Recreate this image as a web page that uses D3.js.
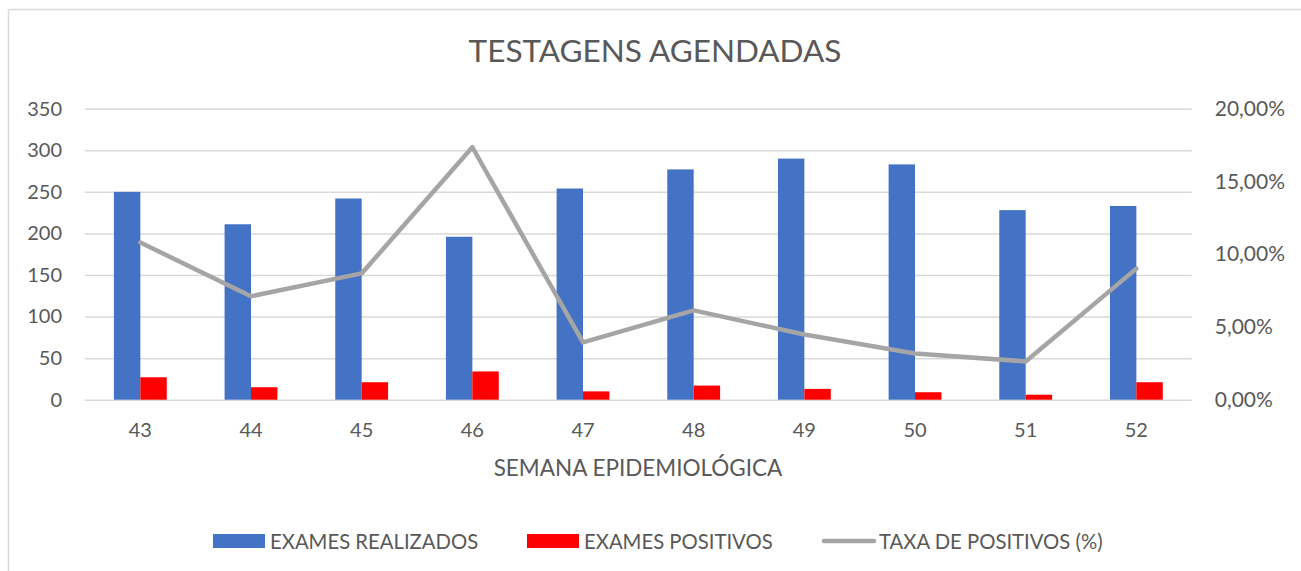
<!DOCTYPE html>
<html>
<head>
<meta charset="utf-8">
<script src="https://cdn.jsdelivr.net/npm/d3@7"></script>
<style>
  html, body { margin: 0; padding: 0; background: #fff; }
  text { font-family: Lato, "Liberation Sans", sans-serif; fill: #595959; }
</style>
</head>
<body>
<div id="chart"></div>
<script>
// data
const semanas = ["43", "44", "45", "46", "47", "48", "49", "50", "51", "52"];
const realizados = [250, 211, 242, 196, 254, 277, 290, 283, 228, 233];
const positivos = [27, 15, 21, 34, 10, 17, 13, 9, 6, 21];
const taxa = [10.8, 7.11, 8.68, 17.35, 3.94, 6.14, 4.48, 3.18, 2.63, 9.01];
const leftTicks = [0, 50, 100, 150, 200, 250, 300, 350];
const rightTicks = [0, 5, 10, 15, 20];

const width = 1301, height = 571;
const margin = { top: 108.7, right: 1301 - 1191.7, bottom: 571 - 399.7, left: 85 };

const svg = d3.select("#chart").append("svg")
  .attr("width", width)
  .attr("height", height);

// chart border (only top + left visible in the crop)
svg.append("line").attr("x1", 8.5).attr("x2", width).attr("y1", 9.5).attr("y2", 9.5)
  .attr("stroke", "#d9d9d9").attr("stroke-width", 1.5);
svg.append("line").attr("x1", 8.5).attr("x2", 8.5).attr("y1", 9.5).attr("y2", height)
  .attr("stroke", "#d9d9d9").attr("stroke-width", 1.5);

const x = d3.scaleBand().domain(semanas)
  .range([margin.left, width - margin.right]).paddingInner(0).paddingOuter(0);
const y = d3.scaleLinear().domain([0, 350]).range([height - margin.bottom, margin.top]);
const y2 = d3.scaleLinear().domain([0, 20]).range([height - margin.bottom, margin.top]);

// gridlines
svg.append("g")
  .attr("transform", `translate(${margin.left},0)`)
  .call(d3.axisLeft(y).tickValues(leftTicks).tickSize(-(width - margin.left - margin.right)).tickFormat(""))
  .call(g => g.select(".domain").remove())
  .call(g => g.selectAll("line").attr("stroke", "#d9d9d9").attr("stroke-width", 1.5));

// left axis labels
svg.append("g")
  .attr("transform", `translate(${margin.left},0)`)
  .call(d3.axisLeft(y).tickValues(leftTicks).tickSize(0).tickPadding(23))
  .call(g => g.select(".domain").remove())
  .call(g => g.selectAll("text").style("font-size", "20px").attr("fill", "#595959")
    .style("font-family", "Lato, 'Liberation Sans', sans-serif"));

// right axis labels
const pct = d => d3.format(".2f")(d).replace(".", ",") + "%";
svg.append("g")
  .attr("transform", `translate(${width - margin.right},0)`)
  .call(d3.axisRight(y2).tickValues(rightTicks).tickSize(0).tickPadding(23).tickFormat(pct))
  .call(g => g.select(".domain").remove())
  .call(g => g.selectAll("text").style("font-size", "21px").attr("fill", "#595959")
    .style("font-family", "Lato, 'Liberation Sans', sans-serif"));

// x axis labels
svg.append("g")
  .attr("transform", `translate(0,${height - margin.bottom})`)
  .call(d3.axisBottom(x).tickSize(0).tickPadding(23))
  .call(g => g.select(".domain").remove())
  .call(g => g.selectAll("text").style("font-size", "20px").attr("fill", "#595959")
    .style("font-family", "Lato, 'Liberation Sans', sans-serif"));

// bars
const barW = x.bandwidth() / 4.19;
const sub = d3.scaleBand().domain(["r", "p"]).range([0, barW * 2]);

svg.append("g").selectAll("rect").data(realizados).join("rect")
  .attr("x", (d, i) => x(semanas[i]) + x.bandwidth() / 2 - barW + sub("r"))
  .attr("y", d => y(d))
  .attr("width", barW)
  .attr("height", d => y(0) - y(d))
  .attr("fill", "#4472c4");

svg.append("g").selectAll("rect").data(positivos).join("rect")
  .attr("x", (d, i) => x(semanas[i]) + x.bandwidth() / 2 - barW + sub("p"))
  .attr("y", d => y(d))
  .attr("width", barW)
  .attr("height", d => y(0) - y(d))
  .attr("fill", "#ff0000");

// rate line
const line = d3.line()
  .x((d, i) => x(semanas[i]) + x.bandwidth() / 2)
  .y(d => y2(d));
svg.append("path").datum(taxa)
  .attr("d", line)
  .attr("fill", "none")
  .attr("stroke", "#a5a5a5")
  .attr("stroke-width", 4.5)
  .attr("stroke-linejoin", "round")
  .attr("stroke-linecap", "round");

// title
svg.append("text")
  .attr("x", 655).attr("y", 62)
  .attr("text-anchor", "middle")
  .style("font-size", "31.5px")
  .text("TESTAGENS AGENDADAS");

// x axis title
svg.append("text")
  .attr("x", 638).attr("y", 476)
  .attr("text-anchor", "middle")
  .style("font-size", "22.5px")
  .text("SEMANA EPIDEMIOLÓGICA");

// legend
const legend = [
  { label: "EXAMES REALIZADOS", color: "#4472c4", type: "rect", x: 213 },
  { label: "EXAMES POSITIVOS", color: "#ff0000", type: "rect", x: 527 },
  { label: "TAXA DE POSITIVOS (%)", color: "#a5a5a5", type: "line", x: 822 }
];
const lg = svg.append("g").selectAll("g").data(legend).join("g")
  .attr("transform", d => `translate(${d.x},541)`);
lg.filter(d => d.type === "rect").append("rect")
  .attr("x", 0).attr("y", -7).attr("width", 52).attr("height", 14)
  .attr("fill", d => d.color);
lg.filter(d => d.type === "line").append("line")
  .attr("x1", 2).attr("x2", 52).attr("y1", 0).attr("y2", 0)
  .attr("stroke", d => d.color).attr("stroke-width", 4.5).attr("stroke-linecap", "round");
lg.append("text")
  .attr("x", 57).attr("y", 7.5)
  .style("font-size", "20.3px")
  .text(d => d.label);
</script>
</body>
</html>
